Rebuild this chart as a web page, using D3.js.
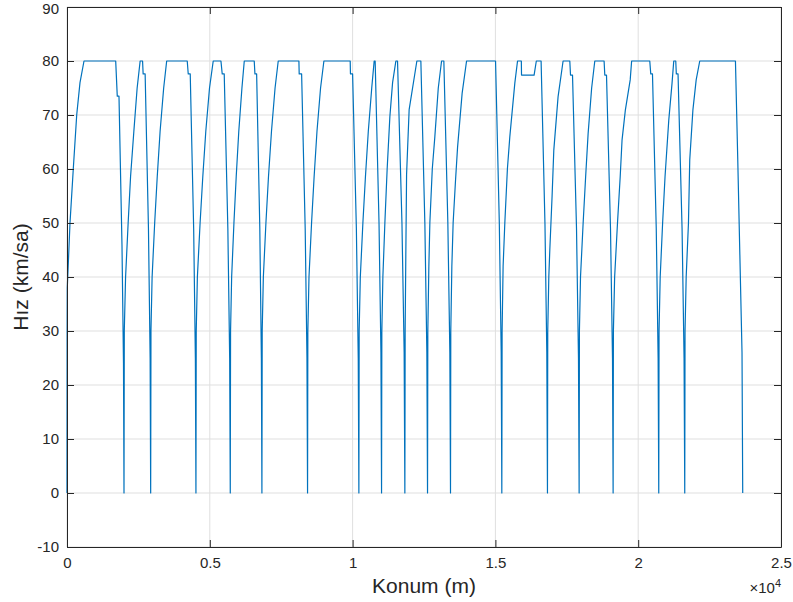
<!DOCTYPE html>
<html>
<head>
<meta charset="utf-8">
<script src="https://cdn.jsdelivr.net/npm/d3@7"></script>
<style>
  body { margin: 0; background: #fff; }
  svg text { font-family: "Liberation Sans", Arial, Helvetica, sans-serif; fill: #262626; }
</style>
</head>
<body>
<svg id="chart" width="793" height="602"></svg>
<script>
// position along the line (m), one row per station-to-station run
var konum = [
  0, 5, 10, 105, 220, 340, 455, 595, 1705, 1760, 1820, 1925, 1978, 1996,
  2006, 2051, 2141, 2226, 2341, 2456, 2561, 2646, 2666, 2736, 2852, 2911, 2930,
  2940, 2980, 3070, 3160, 3260, 3385, 3490, 4210, 4245, 4315, 4435, 4495, 4515,
  4525, 4565, 4660, 4755, 4860, 4990, 5120, 5390, 5435, 5505, 5632, 5696, 5717,
  5727, 5765, 5845, 5925, 6015, 6125, 6207, 6556, 6580, 6640, 6751, 6806, 6825,
  6835, 6875, 6965, 7055, 7160, 7285, 7396, 8120, 8130, 8215, 8340, 8402, 8423,
  8433, 8473, 8563, 8653, 8753, 8878, 8995, 9916, 9925, 10000, 10132, 10198, 10220,
  10230, 10270, 10360, 10450, 10550, 10670, 10755, 10790, 10925, 10992, 11014,
  11024, 11060, 11130, 11210, 11305, 11400, 11515, 11573, 11728, 11805, 11830,
  11840, 11865, 11890, 11980, 12250, 12390, 12530, 12600, 12624,
  12634, 12670, 12705, 12790, 12880, 13000, 13115, 13195, 13335, 13405, 13428,
  13438, 13475, 13520, 13605, 13675, 13835, 13990, 15005, 15137, 15203, 15225,
  15235, 15270, 15330, 15420, 15505, 15680, 15775, 15908, 15915, 16355, 16433, 16600, 16735, 16800, 16823,
  16833, 16870, 16905, 16985, 17045, 17195, 17370, 17605, 17630, 17700, 17840, 17909, 17932,
  17942, 17980, 18072, 18160, 18247, 18370, 18480, 18806, 18830, 18890, 19030, 19100, 19122,
  19132, 19175, 19275, 19370, 19435, 19550, 19720, 19770, 20405, 20440, 20500, 20632, 20698, 20720,
  20730, 20770, 20855, 20940, 21070, 21185, 21245, 21315, 21335, 21395, 21536, 21606, 21630,
  21640, 21680, 21760, 21805, 21915, 22030, 22155, 23405, 23486, 23635, 23660
];

// speed (km/sa) at each position above
var hiz = [
  0, 30, 38, 50, 60, 70, 76, 80, 80, 73.5, 73.5, 46, 24, 0,
  30, 40, 50, 58.6, 67, 75, 80, 80, 77.6, 77.6, 49, 25, 0,
  30, 40, 50, 58.6, 67, 75, 80, 80, 77.6, 77.6, 49, 25, 0,
  30, 40, 50, 58.6, 67, 75, 80, 80, 77.6, 77.6, 49, 25, 0,
  30, 40, 50, 58.6, 67, 75, 80, 80, 77.6, 77.6, 49, 25, 0,
  30, 40, 50, 58.6, 67, 75, 80, 80, 77.6, 77.6, 49, 25, 0,
  30, 40, 50, 58.6, 67, 75, 80, 80, 77.6, 77.6, 49, 25, 0,
  30, 40, 50, 58.6, 67, 75, 80, 80, 50, 26, 0,
  30, 40, 50, 60, 69.7, 76, 80, 80, 50, 26, 0,
  30, 45, 59, 71, 80, 80, 50, 26, 0,
  30, 42, 50, 60, 66, 75, 80, 80, 50, 26, 0,
  30, 42, 50, 58, 64, 74, 80, 80, 50, 26, 0,
  30, 42, 50, 60, 66, 75.9, 80, 80, 77.4, 77.4, 80, 80, 50, 26, 0,
  30, 40, 45, 55, 63.5, 73.4, 80, 80, 77.4, 77.4, 49, 25, 0,
  30, 40, 50, 58.6, 66.6, 75, 80, 80, 77.4, 77.4, 49, 25, 0,
  30, 40, 50, 58.6, 65.4, 70.9, 76.5, 80, 80, 77.6, 77.6, 49, 25, 0,
  30, 40, 50, 58.6, 69, 75.9, 80, 80, 77.6, 77.6, 49, 25, 0,
  30, 40, 50, 61.7, 70.9, 76.5, 80, 80, 61.7, 26, 0
];

var xTicks = [0, 5000, 10000, 15000, 20000, 25000];
var yTicks = [-10, 0, 10, 20, 30, 40, 50, 60, 70, 80, 90];

var margin = {top: 7, right: 12, bottom: 55, left: 67};
var width = 793 - margin.left - margin.right,
    height = 602 - margin.top - margin.bottom;

var svg = d3.select("#chart");
var g = svg.append("g").attr("transform", "translate(" + margin.left + "," + margin.top + ")");

var x = d3.scaleLinear().domain([0, 25000]).range([0, width]);
var y = d3.scaleLinear().domain([-10, 90]).range([height, 0]);

// grid
g.append("g").selectAll("line.vg").data(xTicks).enter().append("line")
  .attr("x1", function(d) { return x(d); }).attr("x2", function(d) { return x(d); })
  .attr("y1", 0).attr("y2", height)
  .style("stroke", "#dfdfdf").style("stroke-width", 1);
g.append("g").selectAll("line.hg").data(yTicks).enter().append("line")
  .attr("y1", function(d) { return y(d); }).attr("y2", function(d) { return y(d); })
  .attr("x1", 0).attr("x2", width)
  .style("stroke", "#dfdfdf").style("stroke-width", 1);

// the speed profile
var pts = konum.map(function(k, i) { return [k, hiz[i]]; });
var line = d3.line()
  .x(function(d) { return x(d[0]); })
  .y(function(d) { return y(d[1]); });

g.append("path")
  .datum(pts)
  .attr("d", line)
  .style("fill", "none")
  .style("stroke", "#0072bd")
  .style("stroke-width", 1.2)
  .style("stroke-linejoin", "round");

// axes, ticks pointing inward like matlab
var xAxis = d3.axisBottom(x).tickValues(xTicks).tickSizeInner(-7).tickSizeOuter(0).tickPadding(10)
  .tickFormat(function(d) { return String(d / 10000); });
var yAxis = d3.axisLeft(y).tickValues(yTicks).tickSizeInner(-7).tickSizeOuter(0).tickPadding(8)
  .tickFormat(function(d) { return String(d); });

var gx = g.append("g").attr("transform", "translate(0," + height + ")").call(xAxis);
var gy = g.append("g").call(yAxis);
var gt = g.append("g").call(d3.axisTop(x).tickValues(xTicks).tickSizeInner(-7).tickSizeOuter(0).tickFormat(""));
var gr = g.append("g").attr("transform", "translate(" + width + ",0)")
  .call(d3.axisRight(y).tickValues(yTicks).tickSizeInner(-7).tickSizeOuter(0).tickFormat(""));

[gx, gy, gt, gr].forEach(function(a) {
  a.select(".domain").style("stroke", "#262626");
  a.selectAll(".tick line").style("stroke", "#262626");
  a.selectAll(".tick text").style("font-size", "15px").style("fill", "#262626");
});

// keep the top label inside the page
gy.selectAll(".tick text").filter(function(d) { return d === 90; }).attr("y", 2);

// labels
g.append("text")
  .attr("x", width / 2).attr("y", height + 46)
  .attr("text-anchor", "middle")
  .style("font-size", "21px")
  .text("Konum (m)");

g.append("text")
  .attr("transform", "translate(-39," + (height / 2) + ") rotate(-90)")
  .attr("text-anchor", "middle")
  .style("font-size", "21px")
  .text("Hız (km/sa)");

var ex = g.append("text")
  .attr("x", width).attr("y", height + 46)
  .attr("text-anchor", "end")
  .style("font-size", "15px");
ex.append("tspan").text("×10");
ex.append("tspan").attr("dy", -6).style("font-size", "11px").text("4");
</script>
</body>
</html>
